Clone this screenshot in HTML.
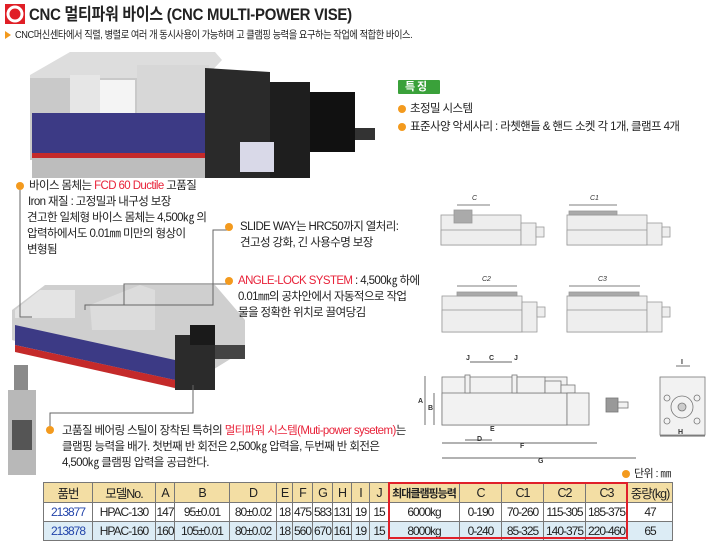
<!DOCTYPE html>
<html><head><meta charset="utf-8">
<style>
*{margin:0;padding:0;box-sizing:border-box}
body{width:713px;height:542px;background:#fff;position:relative;overflow:hidden;font-family:"Liberation Sans","Noto Sans CJK KR",sans-serif;color:#222}
.t{position:absolute;white-space:nowrap;font-size:11.5px;line-height:16px;letter-spacing:-0.6px}
.r{color:#e8233a}
.dot{position:absolute;width:8px;height:8px;border-radius:50%;background:#f39a1e}
table{position:absolute;left:43px;top:482px;border-collapse:collapse;font-size:12px;letter-spacing:-1px;table-layout:fixed;width:629px}
td{border:1px solid #777;text-align:center;padding:0;white-space:nowrap;overflow:hidden;height:19px}
tr.h td{background:#f3dea4;height:17px;font-size:12.5px}
tr.b td{background:#dcecf5}
.blue{color:#2244aa}
</style></head><body>
<svg width="713" height="542" style="position:absolute;left:0;top:0">
<rect x="5" y="4" width="20" height="20" fill="#e01f26"/>
<circle cx="15" cy="14" r="7" fill="none" stroke="#fff" stroke-width="3"/>
<polygon points="5,31 11,35 5,39" fill="#f39a1e"/>
<polygon points="30,75 70,52 215,52 222,60 205,78 30,78" fill="#ddd"/>
<polygon points="30,78 205,78 205,160 30,160" fill="#c9c9c9"/>
<rect x="70" y="75" width="30" height="38" fill="#e6e6e6"/>
<rect x="100" y="80" width="35" height="33" fill="#f4f4f4"/>
<rect x="137" y="65" width="72" height="48" fill="#d7d7d7"/>
<rect x="32" y="113" width="246" height="45" fill="#3c3a85"/>
<rect x="32" y="153" width="246" height="5" fill="#c42a2a"/>
<rect x="32" y="158" width="246" height="20" fill="#bdbdbd"/>
<polygon points="205,68 270,72 270,178 205,178" fill="#2a2a2a"/>
<rect x="270" y="82" width="40" height="96" fill="#1e1e1e"/>
<rect x="310" y="92" width="45" height="60" fill="#111"/>
<rect x="355" y="128" width="20" height="12" fill="#333"/>
<rect x="240" y="142" width="34" height="30" fill="#d9d9e8"/>
<polygon points="12,310 45,285 215,285 245,320 245,350 180,390 12,340" fill="#cfcfcf"/>
<polygon points="15,310 40,290 75,290 75,318 15,318" fill="#e4e4e4"/>
<polygon points="90,305 140,285 155,290 155,330 92,330" fill="#dcdcdc"/>
<polygon points="15,325 175,360 175,380 15,345" fill="#3c3a85"/>
<polygon points="15,345 175,380 175,388 15,352" fill="#c42a2a"/>
<rect x="175" y="335" width="40" height="55" fill="#2b2b2b"/>
<rect x="190" y="325" width="25" height="20" fill="#1a1a1a"/>
<rect x="215" y="345" width="30" height="14" fill="#444"/>
<rect x="14" y="365" width="14" height="25" fill="#8a8a8a"/>
<rect x="8" y="390" width="28" height="85" fill="#b8b8b8"/>
<rect x="12" y="420" width="20" height="30" fill="#555"/>
<g fill="none" stroke="#666" stroke-width="1">
<polyline points="20,190 20,317 32,317"/>
<polyline points="228,230 213,230 213,305 85,305 85,310"/>
<polyline points="228,284 124,284 124,305"/>
<polyline points="50,430 50,413 193,413 193,385"/>
</g>
<g fill="#eee" stroke="#999" stroke-width="0.8">
<rect x="441" y="215" width="80" height="30"/><rect x="441" y="230" width="80" height="15"/>
<rect x="521" y="223" width="15" height="22"/><rect x="536" y="227" width="8" height="10"/>
<rect x="454" y="210" width="18" height="13" fill="#aaa"/>
<rect x="567" y="215" width="80" height="30"/><rect x="567" y="230" width="80" height="15"/>
<rect x="569" y="211" width="48" height="4" fill="#aaa"/>
<rect x="647" y="223" width="15" height="22"/><rect x="662" y="227" width="8" height="10"/>
<rect x="442" y="296" width="80" height="36"/><rect x="442" y="310" width="80" height="22"/>
<rect x="457" y="292" width="60" height="4" fill="#aaa"/>
<rect x="522" y="302" width="15" height="30"/><rect x="537" y="307" width="8" height="10"/>
<rect x="567" y="296" width="80" height="36"/><rect x="567" y="310" width="80" height="22"/>
<rect x="569" y="292" width="70" height="4" fill="#aaa"/>
<rect x="647" y="302" width="15" height="30"/><rect x="662" y="307" width="8" height="10"/>
</g>
<g stroke="#555" stroke-width="0.7" font-size="7" font-style="italic" fill="#333">
<line x1="457" y1="205" x2="490" y2="205"/><text x="472" y="200" stroke="none">C</text>
<line x1="569" y1="205" x2="617" y2="205"/><text x="590" y="200" stroke="none">C1</text>
<line x1="457" y1="286" x2="517" y2="286"/><text x="482" y="281" stroke="none">C2</text>
<line x1="569" y1="286" x2="640" y2="286"/><text x="598" y="281" stroke="none">C3</text>
</g>
<g fill="#f2f2f2" stroke="#777" stroke-width="0.8">
<rect x="442" y="377" width="125" height="48"/>
<rect x="442" y="393" width="125" height="32"/>
<rect x="465" y="375" width="5" height="18"/><rect x="512" y="375" width="5" height="18"/>
<rect x="517" y="377" width="28" height="16"/><rect x="545" y="381" width="16" height="12"/><rect x="561" y="385" width="14" height="8"/>
<rect x="567" y="393" width="22" height="32"/>
<rect x="606" y="398" width="12" height="14" fill="#999"/><rect x="618" y="402" width="10" height="6"/>
<rect x="660" y="377" width="45" height="58"/>
<circle cx="682" cy="407" r="11"/><circle cx="682" cy="407" r="4" fill="#ccc"/>
<circle cx="667" cy="398" r="3"/><circle cx="697" cy="398" r="3"/><circle cx="667" cy="421" r="3"/><circle cx="697" cy="421" r="3"/>
</g>
<g stroke="#333" stroke-width="0.7" fill="none">
<line x1="442" y1="443" x2="597" y2="443"/><line x1="442" y1="458" x2="636" y2="458"/>
<line x1="465" y1="440" x2="492" y2="440"/><line x1="425" y1="376" x2="425" y2="425"/><line x1="434" y1="393" x2="434" y2="425"/>
<line x1="470" y1="362" x2="512" y2="362"/><line x1="660" y1="436" x2="705" y2="436"/><line x1="676" y1="366" x2="690" y2="366"/>
</g>
<g font-size="7" font-weight="bold" fill="#333">
<text x="418" y="403">A</text><text x="428" y="410">B</text><text x="489" y="360">C</text>
<text x="466" y="360">J</text><text x="514" y="360">J</text><text x="477" y="441">D</text><text x="490" y="431">E</text>
<text x="520" y="448">F</text><text x="538" y="463">G</text><text x="678" y="434">H</text><text x="681" y="364">I</text>
</g>
<circle cx="626" cy="474" r="4" fill="#f39a1e"/>
<rect x="398" y="80" width="42" height="14" fill="#3aa13a" rx="1"/>
</svg>
<div class="t" style="left:29px;top:4px;font-size:17px;font-weight:bold;line-height:22px;letter-spacing:-0.3px;transform:scaleX(0.88);transform-origin:0 0">CNC 멀티파워 바이스 (CNC MULTI-POWER VISE)</div>
<div class="t" style="left:15px;top:28px;font-size:10.5px;line-height:14px;letter-spacing:-0.5px;transform:scaleX(0.88);transform-origin:0 0">CNC머신센타에서 직렬, 병렬로 여러 개 동시사용이 가능하며 고 클램핑 능력을 요구하는 작업에 적합한 바이스.</div>
<div class="t" style="left:405px;top:79px;color:#fff;font-weight:bold;font-size:11px">특 징</div>
<div class="dot" style="left:398px;top:105px"></div><div class="t" style="left:410px;top:101px">초정밀 시스템</div>
<div class="dot" style="left:398px;top:123px"></div><div class="t" style="left:410px;top:119px">표준사양 악세사리 : 라쳇핸들 &amp; 핸드 소켓 각 1개, 클램프 4개</div>
<div class="dot" style="left:16px;top:182px"></div>
<div class="t" style="left:29px;top:178px">바이스 몸체는 <span class="r">FCD 60 Ductile</span> 고품질</div>
<div class="t" style="left:28px;top:194px">Iron 재질 : 고정밀과 내구성 보장</div>
<div class="t" style="left:27px;top:210px">견고한 일체형 바이스 몸체는 4,500㎏ 의</div>
<div class="t" style="left:27px;top:226px">압력하에서도 0.01㎜ 미만의 형상이</div>
<div class="t" style="left:27px;top:242px">변형됨</div>
<div class="dot" style="left:225px;top:223px"></div>
<div class="t" style="left:240px;top:219px">SLIDE WAY는 HRC50까지 열처리:</div>
<div class="t" style="left:240px;top:235px">견고성 강화, 긴 사용수명 보장</div>
<div class="dot" style="left:225px;top:277px"></div>
<div class="t" style="left:238px;top:273px"><span class="r">ANGLE-LOCK SYSTEM</span> : 4,500㎏ 하에</div>
<div class="t" style="left:238px;top:289px">0.01㎜의 공차안에서 자동적으로 작업</div>
<div class="t" style="left:238px;top:305px">물을 정확한 위치로 끌여당김</div>
<div class="dot" style="left:46px;top:426px"></div>
<div class="t" style="left:62px;top:423px">고품질 베어링 스틸이 장착된 특허의 <span class="r">멀티파워 시스템(Muti-power sysetem)</span>는</div>
<div class="t" style="left:62px;top:439px">클램핑 능력을 배가.  첫번째 반 회전은 2,500㎏ 압력을, 두번째 반 회전은</div>
<div class="t" style="left:62px;top:455px">4,500㎏ 클램핑 압력을 공급한다.</div>
<div class="t" style="left:634px;top:466px;font-size:11px">단위 : ㎜</div>
<table>
<colgroup><col style="width:49px"><col style="width:63px"><col style="width:19px"><col style="width:55px"><col style="width:47px"><col style="width:16px"><col style="width:20px"><col style="width:20px"><col style="width:19px"><col style="width:18px"><col style="width:19px"><col style="width:71px"><col style="width:42px"><col style="width:42px"><col style="width:42px"><col style="width:42px"><col style="width:45px"></colgroup>
<tr class="h"><td>품번</td><td>모델No.</td><td>A</td><td>B</td><td>D</td><td>E</td><td>F</td><td>G</td><td>H</td><td>I</td><td>J</td><td style="font-size:11px;font-weight:bold">최대클램핑능력</td><td>C</td><td>C1</td><td>C2</td><td>C3</td><td>중량(kg)</td></tr>
<tr><td class="blue">213877</td><td>HPAC-130</td><td>147</td><td>95±0.01</td><td>80±0.02</td><td>18</td><td>475</td><td>583</td><td>131</td><td>19</td><td>15</td><td>6000kg</td><td>0-190</td><td>70-260</td><td>115-305</td><td>185-375</td><td>47</td></tr>
<tr class="b"><td class="blue">213878</td><td>HPAC-160</td><td>160</td><td>105±0.01</td><td>80±0.02</td><td>18</td><td>560</td><td>670</td><td>161</td><td>19</td><td>15</td><td>8000kg</td><td>0-240</td><td>85-325</td><td>140-375</td><td>220-460</td><td>65</td></tr>
</table>
<div style="position:absolute;left:388px;top:482px;width:240px;height:57px;border:2px solid #e0202a"></div>
</body></html>
